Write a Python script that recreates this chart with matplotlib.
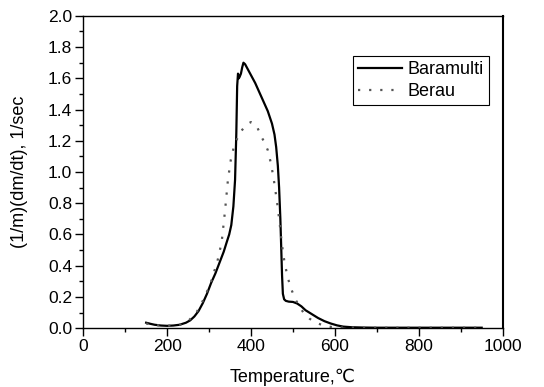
import numpy as np
import matplotlib.pyplot as plt
from matplotlib.ticker import MultipleLocator

# Baramulti (solid line)
t_bar = [150, 160, 170, 185, 200, 215, 230, 245, 255, 265, 275, 285, 295, 305, 315, 325,
         335, 342, 348, 353, 358, 362, 365, 367, 369, 371, 373, 376, 379, 382, 386, 392,
         400, 410, 420, 430, 440, 450, 456, 460, 464, 467, 470, 472, 474, 476, 479, 483,
         490, 500, 510, 520, 530, 545, 560, 575, 590, 605, 620, 640, 670, 700, 750, 800,
         850, 900, 950]
v_bar = [0.035, 0.028, 0.022, 0.017, 0.015, 0.017, 0.022, 0.035, 0.05, 0.075, 0.11, 0.16,
         0.22, 0.29, 0.35, 0.42, 0.49, 0.55, 0.60, 0.66, 0.78, 0.95, 1.25, 1.55, 1.63, 1.60,
         1.61, 1.63, 1.67, 1.70, 1.69, 1.66, 1.62, 1.57, 1.51, 1.45, 1.39, 1.31, 1.24, 1.16,
         1.04, 0.90, 0.70, 0.52, 0.34, 0.22, 0.185, 0.175, 0.17, 0.168, 0.158, 0.14, 0.115,
         0.09, 0.065, 0.045, 0.03, 0.018, 0.01, 0.006, 0.004, 0.003, 0.003, 0.003, 0.003,
         0.003, 0.003]

# Berau (dotted line)
t_ber = [150, 170, 200, 230, 250, 270, 290, 305, 320, 330, 338, 345, 352, 360, 368, 376,
         385, 393, 400, 408, 416, 424, 432, 440, 448, 455, 462, 468, 474, 480, 488, 496,
         505, 515, 525, 540, 555, 570, 585, 600, 620, 650, 700, 750, 800, 850, 900, 950]
v_ber = [0.03, 0.02, 0.015, 0.022, 0.045, 0.1, 0.2, 0.3, 0.43, 0.55, 0.75, 0.95, 1.08,
         1.17, 1.22, 1.26, 1.29, 1.31, 1.32, 1.31, 1.28, 1.23, 1.19, 1.14, 1.05, 0.94,
         0.81, 0.68, 0.53, 0.42, 0.32, 0.25, 0.19, 0.14, 0.10, 0.06, 0.035, 0.02, 0.01,
         0.006, 0.004, 0.003, 0.003, 0.003, 0.003, 0.003, 0.003, 0.003]

plt.rcParams['font.family'] = ['Liberation Sans', 'DejaVu Sans']

fig = plt.figure(figsize=(5.44, 3.87), dpi=100)
ax = fig.add_axes([0.153, 0.152, 0.771, 0.807])

ax.plot(t_bar, v_bar, color='black', lw=1.6, label='Baramulti')
ax.plot(t_ber, v_ber, color='#555555', lw=1.6, linestyle=(0, (1, 4)), label='Berau')

ax.set_xlim(0, 1000)
ax.set_ylim(0, 2.0)
ax.xaxis.set_major_locator(MultipleLocator(200))
ax.xaxis.set_minor_locator(MultipleLocator(100))
ax.yaxis.set_major_locator(MultipleLocator(0.2))
ax.yaxis.set_minor_locator(MultipleLocator(0.1))
ax.yaxis.set_major_formatter(plt.FormatStrFormatter('%.1f'))
ax.tick_params(which='major', direction='out', length=6, width=1, labelsize=12.5,
               colors='black', pad=2)
ax.tick_params(which='minor', direction='out', length=3, width=1)
for s in ax.spines.values():
    s.set_linewidth(1.0)
ax.spines['right'].set_linewidth(1.5)

ax.set_xlabel('Temperature,\u2103', fontsize=13, labelpad=10)
ax.set_ylabel('(1/m)(dm/dt), 1/sec', fontsize=13, labelpad=14)

leg = ax.legend(loc='upper left', bbox_to_anchor=(0.643, 0.873), fontsize=13, frameon=True,
                fancybox=False, edgecolor='black', handlelength=2.4, handletextpad=0.3,
                borderpad=0.3, labelspacing=0.28, borderaxespad=0, framealpha=1)
leg.get_frame().set_linewidth(0.8)

fig.savefig('out.png', dpi=100)
